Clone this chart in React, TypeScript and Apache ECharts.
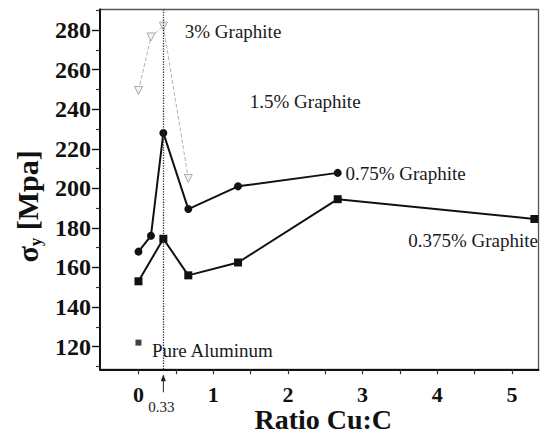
import React, { useEffect, useRef } from "react";
import * as echarts from "echarts";

// ---- data ----
const xTicks = [0, 1, 2, 3, 4, 5];
const xMinorTicks = [0, 0.5, 1, 1.5, 2, 2.5, 3, 3.5, 4, 4.5, 5];
const yTicks = [120, 140, 160, 180, 200, 220, 240, 260, 280];
const yMinorTicks = [110, 130, 150, 170, 190, 210, 230, 250, 270, 290];

const ratio0375 = [0, 0.333, 0.667, 1.333, 2.667, 5.3];
const sigma0375 = [153, 174.5, 156, 162.5, 194.5, 184.5];

const ratio075 = [0, 0.167, 0.333, 0.667, 1.333, 2.667];
const sigma075 = [168, 176, 228, 189.5, 201, 207.8];

const ratio3 = [0, 0.167, 0.333, 0.667];
const sigma3 = [249.5, 276.5, 282, 205];

const pureAlRatio = [0];
const pureAlSigma = [122];

const markRatio = 0.333;

const labelTexts = ["3% Graphite", "1.5% Graphite", "0.75% Graphite", "0.375% Graphite", "Pure Aluminum"];
const labelRatio = [0.62, 1.49, 2.77, 3.61, 0.18];
const labelSigma = [279.1, 243.8, 207.7, 173.8, 118.2];

const SERIF = "Liberation Serif";

export default function App() {
  const ref = useRef<HTMLDivElement>(null);

  useEffect(() => {
    if (!ref.current) return;
    const chart = echarts.init(ref.current, undefined, { renderer: "svg" });
    const zip = (xs: number[], ys: number[]) => xs.map((x, i) => [x, ys[i]]);

    const textLabel = {
      show: true,
      position: "right",
      distance: 0,
      formatter: (p: any) => p.name,
      fontFamily: SERIF,
      fontSize: 19,
      color: "#1a1a1a",
    };

    const option: any = {
      animation: false,
      backgroundColor: "#ffffff",
      textStyle: { fontFamily: SERIF },
      grid: {
        left: 100,
        right: 6.5,
        top: 9.5,
        bottom: 64.7,
        show: true,
        borderColor: "#555",
        borderWidth: 1.3,
        outerBoundsMode: "none",
      },
      xAxis: [
        {
          type: "value",
          min: -0.515,
          max: 5.355,
          splitLine: { show: false },
          axisLine: { onZero: false, lineStyle: { color: "#111", width: 2 } },
          axisTick: { customValues: xMinorTicks, length: 5, lineStyle: { color: "#333", width: 1.2 } },
          axisLabel: {
            customValues: xTicks,
            margin: 15,
            lineHeight: 20,
            color: "#111",
            fontFamily: SERIF,
            fontWeight: "bold",
            fontSize: 22,
          },
          name: "Ratio Cu:C",
          nameLocation: "middle",
          nameGap: 38,
          nameMoveOverlap: false,
          nameTextStyle: {
            color: "#111",
            fontFamily: SERIF,
            fontWeight: "bold",
            fontSize: 28,
            lineHeight: 24,
            padding: [0, 0, 0, 8],
          },
        },
      ],
      yAxis: [
        {
          type: "value",
          min: 108.5,
          max: 290.4,
          splitLine: { show: false },
          axisLine: { onZero: false, lineStyle: { color: "#111", width: 2 } },
          axisTick: { customValues: yTicks, length: 8, lineStyle: { color: "#111", width: 1.4 } },
          axisLabel: {
            customValues: yTicks,
            margin: 9,
            color: "#111",
            fontFamily: SERIF,
            fontWeight: "bold",
            fontSize: 24,
          },
          name: "{s|σ}{sub|y}{s| [Mpa]}",
          nameLocation: "middle",
          nameGap: 56,
          nameMoveOverlap: false,
          nameTextStyle: {
            color: "#111",
            padding: [0, 34, 0, 0],
            rich: {
              s: { fontFamily: SERIF, fontWeight: "bold", fontSize: 30, lineHeight: 34, color: "#111" },
              sub: { fontFamily: SERIF, fontWeight: "bold", fontSize: 17, lineHeight: 18, verticalAlign: "bottom", color: "#111" },
            },
          },
        },
        {
          type: "value",
          min: 108.5,
          max: 290.4,
          position: "left",
          splitLine: { show: false },
          axisLine: { show: false, onZero: false },
          axisLabel: { show: false },
          axisTick: { customValues: yMinorTicks, length: 4, lineStyle: { color: "#333", width: 1.2 } },
        },
      ],
      series: [
        {
          name: "3% Graphite",
          type: "line",
          data: zip(ratio3, sigma3),
          symbol: "triangle",
          symbolRotate: 180,
          symbolSize: 8,
          itemStyle: { color: "#f4f4f4", borderColor: "#a8a8a8", borderWidth: 1 },
          lineStyle: { color: "#b4b4b4", width: 1, type: "dashed" },
          z: 2,
        },
        {
          name: "0.375% Graphite",
          type: "line",
          data: zip(ratio0375, sigma0375),
          symbol: "rect",
          symbolSize: 8,
          itemStyle: { color: "#111" },
          lineStyle: { color: "#111", width: 2 },
          z: 3,
        },
        {
          name: "0.75% Graphite",
          type: "line",
          data: zip(ratio075, sigma075),
          symbol: "circle",
          symbolSize: 8,
          itemStyle: { color: "#111" },
          lineStyle: { color: "#111", width: 2 },
          z: 3,
          markLine: {
            silent: true,
            symbol: ["none", "none"],
            label: { show: false },
            lineStyle: { type: "dotted", color: "#333", width: 1.3 },
            data: [{ xAxis: markRatio }],
          },
        },
        {
          name: "Pure Aluminum",
          type: "scatter",
          data: zip(pureAlRatio, pureAlSigma),
          symbol: "rect",
          symbolSize: 6,
          itemStyle: { color: "#111" },
          z: 3,
          markPoint: {
            silent: true,
            symbol: "circle",
            symbolSize: 0,
            itemStyle: { color: "transparent" },
            label: textLabel,
            data: labelTexts.map((t, i) => ({ name: t, coord: [labelRatio[i], labelSigma[i]] })),
          },
        },
      ],
    };
    chart.setOption(option);

    const toPx = (x: number, y: number) => chart.convertToPixel({ seriesIndex: 1 }, [x, y]) as number[];
    const base = toPx(markRatio, 108.5);
    const mx = base[0];
    const ay = base[1];

    chart.setOption({
      series: [
        {},
        {},
        {},
        {
          markPoint: {
            data: [
              ...labelTexts.map((t, i) => ({ name: t, coord: [labelRatio[i], labelSigma[i]] })),
              {
                name: "0.33",
                x: mx - 2,
                y: ay + 38,
                label: { position: "inside", fontSize: 15, fontFamily: SERIF, color: "#1a1a1a" },
              },
            ],
          },
        },
      ],
      graphic: [
        {
          type: "line",
          shape: { x1: mx, y1: ay + 8, x2: mx, y2: ay + 23 },
          style: { stroke: "#222", lineWidth: 1 },
        },
        {
          type: "polygon",
          shape: { points: [[mx - 2.5, ay + 12], [mx + 2.5, ay + 12], [mx, ay + 5]] },
          style: { fill: "#222" },
        },
      ],
    });

    return () => chart.dispose();
  }, []);

  return (
    <div
      ref={ref}
      style={{ position: "fixed", left: 0, top: 0, width: 545, height: 434 }}
    />
  );
}
